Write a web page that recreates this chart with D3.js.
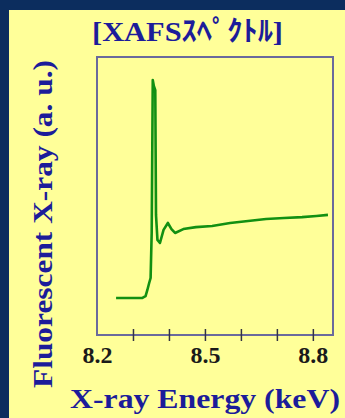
<!DOCTYPE html>
<html>
<head>
<meta charset="utf-8">
<script src="https://cdn.jsdelivr.net/npm/d3@7"></script>
<style>
  html, body { margin: 0; padding: 0; background: #0c2d5e; }
  svg { display: block; }
</style>
</head>
<body>
<svg id="chart" width="345" height="418"></svg>
<script>
// XAFS spectrum: fluorescence intensity (arbitrary units) vs. X-ray energy
const energy = [8.253, 8.325, 8.335, 8.340, 8.345, 8.349, 8.352, 8.355, 8.358, 8.362,
                8.364, 8.368, 8.375, 8.385, 8.397, 8.407, 8.417, 8.440, 8.475, 8.520,
                8.570, 8.620, 8.670, 8.720, 8.770, 8.810, 8.842];
const intensity = [1.33, 1.33, 1.40, 1.62, 1.87, 2.05, 3.67, 9.17, 8.96, 8.81,
                   4.32, 3.42, 3.31, 3.78, 4.03, 3.81, 3.67, 3.81, 3.88, 3.92,
                   4.03, 4.10, 4.17, 4.21, 4.24, 4.28, 4.32];
const tickMarks = [8.3, 8.4, 8.5, 8.6, 8.7, 8.8];
const tickLabels = [8.2, 8.5, 8.8];
const titleText = "[XAFSｽﾍﾟｸﾄﾙ]";
const xTitle = "X-ray Energy (keV)";
const yTitle = "Fluorescent X-ray (a. u.)";

const svg = d3.select("#chart");
const W = 345, H = 418;
const plot = { left: 97, top: 57, right: 333, bottom: 335 };

// yellow panel inside the navy frame
svg.append("rect").attr("x", 9).attr("y", 10).attr("width", W - 9).attr("height", H - 10)
  .attr("fill", "#ffff99");

const x = d3.scaleLinear().domain([8.2, 8.856]).range([plot.left, plot.right]);
const y = d3.scaleLinear().domain([0, 10]).range([plot.bottom, plot.top]);

const serif = "'Liberation Serif', 'Times New Roman', 'Noto Sans CJK JP', serif";

// plot frame
svg.append("rect")
  .attr("x", plot.left).attr("y", plot.top)
  .attr("width", plot.right - plot.left).attr("height", plot.bottom - plot.top)
  .attr("fill", "none").attr("stroke", "#6a6a9c").attr("stroke-width", 2);

// tick marks crossing the bottom edge
const tickAxis = svg.append("g")
  .attr("transform", `translate(0,${plot.bottom})`)
  .call(d3.axisBottom(x).tickValues(tickMarks).tickSize(12).tickFormat(""));
tickAxis.select(".domain").remove();
tickAxis.selectAll(".tick line")
  .attr("y1", -6).attr("y2", 6)
  .attr("stroke", "#333344").attr("stroke-width", 1.5);

// tick labels
const labelAxis = svg.append("g")
  .attr("transform", `translate(0,${plot.bottom})`)
  .call(d3.axisBottom(x).tickValues(tickLabels).tickSize(0).tickPadding(10)
        .tickFormat(d3.format(".1f")));
labelAxis.select(".domain").remove();
labelAxis.selectAll("text")
  .attr("font-family", serif).attr("font-weight", "bold").attr("font-size", 24)
  .attr("fill", "#1a1a1a")
  .attr("dy", null).attr("y", 28);

// spectrum line
const line = d3.line().x((d, i) => x(energy[i])).y(d => y(d));
svg.append("path")
  .datum(intensity)
  .attr("d", line)
  .attr("fill", "none")
  .attr("stroke", "#129012")
  .attr("stroke-width", 2.6)
  .attr("stroke-linejoin", "round");

// title
svg.append("text")
  .attr("x", 187.5).attr("y", 41)
  .attr("text-anchor", "middle")
  .attr("font-family", serif).attr("font-weight", "bold").attr("font-size", 28)
  .attr("fill", "#1c1c9a")
  .attr("textLength", 191).attr("lengthAdjust", "spacingAndGlyphs")
  .text(titleText);

// x axis title
svg.append("text")
  .attr("x", 205).attr("y", 408)
  .attr("text-anchor", "middle")
  .attr("font-family", serif).attr("font-weight", "bold").attr("font-size", 27)
  .attr("fill", "#1c1c9a")
  .attr("textLength", 270).attr("lengthAdjust", "spacingAndGlyphs")
  .text(xTitle);

// y axis title
svg.append("text")
  .attr("transform", "translate(52,224) rotate(-90)")
  .attr("text-anchor", "middle")
  .attr("font-family", serif).attr("font-weight", "bold").attr("font-size", 27)
  .attr("fill", "#1c1c9a")
  .attr("textLength", 328).attr("lengthAdjust", "spacingAndGlyphs")
  .text(yTitle);
</script>
</body>
</html>
